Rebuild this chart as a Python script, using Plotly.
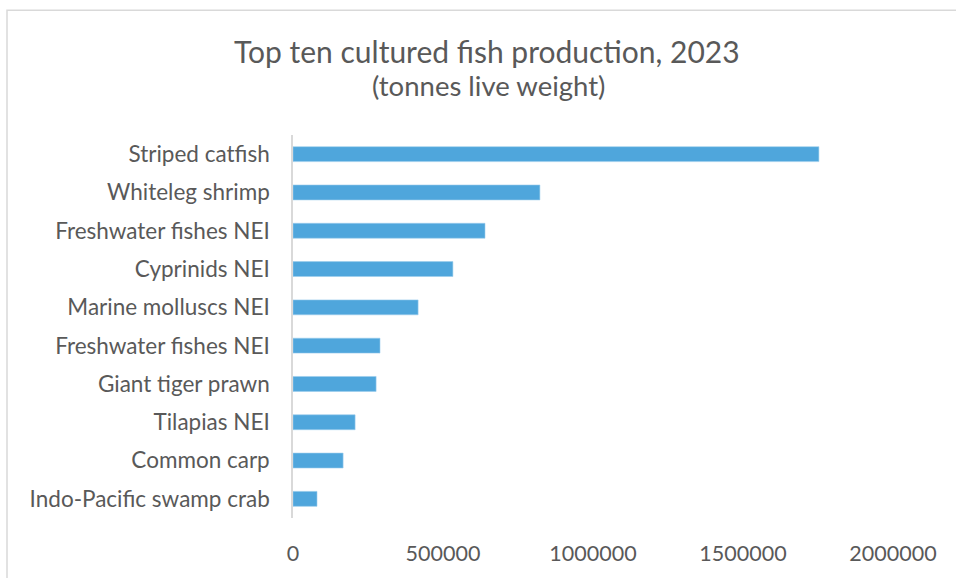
import plotly.graph_objects as go

# Top ten cultured species, listed top to bottom
species = [
    "Striped catfish",
    "Whiteleg shrimp",
    "Freshwater fishes NEI",
    "Cyprinids NEI",
    "Marine molluscs NEI",
    "Freshwater fishes NEI",
    "Giant tiger prawn",
    "Tilapias NEI",
    "Common carp",
    "Indo-Pacific swamp crab",
]
tonnes = [1753000, 823000, 640000, 533000, 417000, 290000, 277000, 207000, 167000, 80000]

x_ticks = [0, 500000, 1000000, 1500000, 2000000]

# numeric slots so the two "Freshwater fishes NEI" rows stay separate
slots = list(range(len(species)))

GREY = "#595959"
FONT = "Lato"

fig = go.Figure(
    go.Bar(
        x=tonnes,
        y=slots,
        orientation="h",
        width=0.39,
        marker=dict(color="#4FA6DC", line=dict(color="#9CCDEC", width=0.6)),
        hoverinfo="x+text",
        hovertext=species,
    )
)

W, H = 956, 578
L, R, T, B = 293, 63, 135, 55
pw, ph = W - L - R, H - T - B

def px_x(p):
    return (p - L) / pw

def px_y(p):
    return (H - B - p) / ph

fig.update_layout(
    width=W,
    height=H,
    margin=dict(l=L, r=R, t=T, b=B),
    paper_bgcolor="white",
    plot_bgcolor="white",
    showlegend=False,
    font=dict(family=FONT, color=GREY),
    xaxis=dict(
        range=[0, 2000000],
        tickvals=x_ticks,
        ticktext=[str(v) for v in x_ticks],
        showgrid=False,
        zeroline=False,
        showline=False,
        ticks="outside",
        ticklen=16,
        tickcolor="rgba(0,0,0,0)",
        tickfont=dict(size=21.5, color=GREY, family=FONT),
    ),
    yaxis=dict(
        range=[len(species) - 0.5, -0.5],
        tickvals=slots,
        ticktext=species,
        showgrid=False,
        zeroline=False,
        showline=True,
        linecolor="#D9D9D9",
        linewidth=1.5,
        ticks="outside",
        ticklen=17,
        tickcolor="rgba(0,0,0,0)",
        tickfont=dict(size=22.5, color=GREY, family=FONT),
    ),
    annotations=[
        dict(
            text="Top ten cultured fish production, 2023",
            xref="paper", yref="paper",
            x=px_x(487), y=px_y(50),
            xanchor="center", yanchor="middle",
            showarrow=False,
            font=dict(size=30, color=GREY, family=FONT),
        ),
        dict(
            text="(tonnes live weight)",
            xref="paper", yref="paper",
            x=px_x(488), y=px_y(85),
            xanchor="center", yanchor="middle",
            showarrow=False,
            font=dict(size=27.5, color=GREY, family=FONT),
        ),
    ],
    shapes=[
        dict(
            type="rect",
            xref="paper", yref="paper",
            x0=px_x(7), x1=px_x(990),
            y0=px_y(620), y1=px_y(8.5),
            line=dict(color="#D9D9D9", width=1.5),
            fillcolor="rgba(0,0,0,0)",
            layer="below",
        )
    ],
)

fig.write_html("out.html")
